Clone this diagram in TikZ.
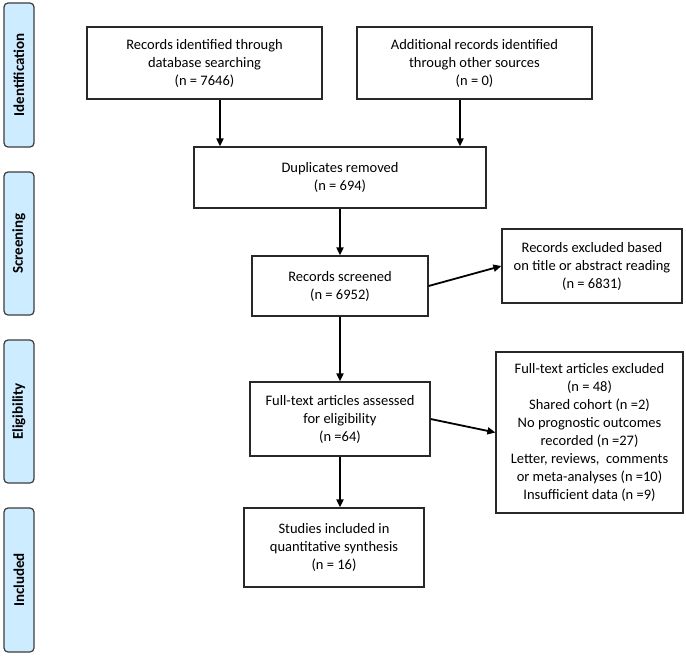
\documentclass[tikz,border=0pt]{standalone}
\usepackage{fontspec}
\setmainfont{Carlito}
\usetikzlibrary{arrows.meta}
\definecolor{barfill}{RGB}{206,236,255}
\definecolor{bardraw}{RGB}{60,60,60}
\definecolor{boxdraw}{RGB}{40,40,40}
\begin{document}
\begin{tikzpicture}[x=1pt,y=-1pt,
  box/.style={draw=boxdraw,line width=1.2pt,fill=white,align=center,inner sep=2pt,
    font=\fontsize{14.5}{18}\selectfont},
  bar/.style={draw=bardraw,line width=1.2pt,fill=barfill,rounded corners=4pt},
  barlabel/.style={rotate=90,font=\fontsize{15}{18}\selectfont\bfseries},
  arr/.style={line width=1.8pt,-{Triangle[length=8pt,width=7pt]}}]
\useasboundingbox (0,0) rectangle (686,656);
% phase bars
\node[bar,minimum width=30pt,minimum height=144pt] (pI) at (19,75) {};
\node[barlabel] (lI) at (pI.center) {Identification};
\node[bar,minimum width=30pt,minimum height=143pt] (pS) at (19,243.5) {};
\node[barlabel] (lS) at (pS.center) {Screening};
\node[bar,minimum width=30pt,minimum height=143pt] (pE) at (19,411.5) {};
\node[barlabel] (lE) at (pE.center) {Eligibility};
\node[bar,minimum width=30pt,minimum height=144pt] (pN) at (19,580) {};
\node[barlabel] (lN) at (pN.center) {Included};
% boxes
\node[box,minimum width=235pt,minimum height=72pt] (b1) at (204.5,63) {Records identified through\\database searching\\(n = 7646)};
\node[box,minimum width=235pt,minimum height=72pt] (b2) at (474.5,63) {Additional records identified\\through other sources\\(n = 0)};
\node[box,minimum width=292pt,minimum height=61pt] (dup) at (340,177.5) {Duplicates removed\\(n = 694)};
\node[box,minimum width=176pt,minimum height=60pt] (scr) at (340,286) {Records screened\\(n = 6952)};
\node[box,minimum width=180pt,minimum height=74pt] (ex1) at (592,266) {Records excluded based\\on title or abstract reading\\(n = 6831)};
\node[box,minimum width=180pt,minimum height=74pt] (ass) at (340,419) {Full-text articles assessed\\for eligibility\\(n =64)};
\node[box,minimum width=187pt,minimum height=161pt] (ex2) at (589.5,432.5) {Full-text articles excluded\\(n = 48)\\Shared cohort (n =2)\\No prognostic outcomes\\recorded (n =27)\\Letter, reviews,\ \ comments\\or meta-analyses (n =10)\\Insufficient data (n =9)};
\node[box,minimum width=180pt,minimum height=79pt] (stu) at (334,547.5) {Studies included in\\quantitative synthesis\\(n = 16)};
% connectors
\coordinate (c1) at (220,0);
\coordinate (c2) at (460,0);
\coordinate (cm) at (340,0);
\draw[arr] (b1.south -| c1) -- (dup.north -| c1);
\draw[arr] (b2.south -| c2) -- (dup.north -| c2);
\draw[arr] (dup.south -| cm) -- (scr.north -| cm);
\draw[arr] (scr.east) -- (ex1.west);
\draw[arr] (scr.south -| cm) -- (ass.north -| cm);
\draw[arr] (ass.east) -- (ex2.west);
\draw[arr] (ass.south -| cm) -- (stu.north -| cm);
\end{tikzpicture}
\end{document}
